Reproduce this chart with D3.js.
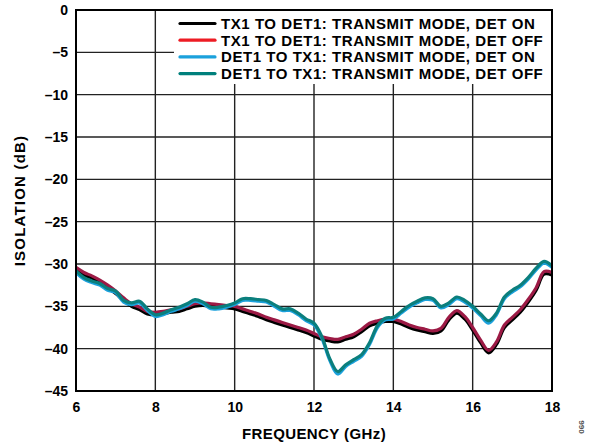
<!DOCTYPE html>
<html>
<head>
<meta charset="utf-8">
<script src="https://cdn.jsdelivr.net/npm/d3@7/dist/d3.min.js"></script>
<style>
  html, body { margin: 0; padding: 0; background: #fff; }
  svg { display: block; }
  text { font-family: "Liberation Sans", Arial, sans-serif; font-weight: bold; fill: #000; }
</style>
</head>
<body>
<svg id="chart" width="592" height="444"></svg>
<script>
// Frequency sweep points (GHz)
const freqGHz = [
  6.0, 6.2, 6.4, 6.6, 6.8, 7.0, 7.2, 7.4, 7.6, 7.8,
  8.0, 8.2, 8.4, 8.6, 8.8, 9.0, 9.2, 9.4, 9.6, 9.8,
  10.0, 10.2, 10.4, 10.6, 10.8, 11.0, 11.2, 11.4, 11.6, 11.8,
  12.0, 12.2, 12.4, 12.6, 12.8, 13.0, 13.2, 13.4, 13.6, 13.8,
  14.0, 14.2, 14.4, 14.6, 14.8, 15.0, 15.2, 15.4, 15.6, 15.8,
  16.0, 16.2, 16.4, 16.6, 16.8, 17.0, 17.2, 17.4, 17.6, 17.8, 18.0
];

// Isolation (dB), TX1 to DET1, transmit mode, detector on
const tx1Det1On = [
  -30.6, -31.2, -31.6, -32.1, -32.7, -33.4, -34.2, -34.9, -35.3, -35.8,
  -35.9, -35.8, -35.6, -35.5, -35.2, -34.9, -34.8, -34.9, -35.0, -35.1,
  -35.2, -35.5, -35.8, -36.1, -36.5, -36.8, -37.1, -37.4, -37.7, -38.0,
  -38.4, -38.8, -39.0, -39.1, -38.8, -38.5, -37.9, -37.2, -36.9, -36.7,
  -36.7, -37.0, -37.4, -37.7, -37.9, -38.1, -37.8, -36.5, -35.7, -36.4,
  -37.7, -39.2, -40.4, -39.4, -37.4, -36.5, -35.6, -34.4, -33.0, -31.1, -31.2
];

// Isolation (dB), TX1 to DET1, transmit mode, detector off
const tx1Det1Off = [
  -30.4, -31.0, -31.4, -31.9, -32.5, -33.2, -34.0, -34.7, -35.1, -35.6,
  -35.7, -35.6, -35.4, -35.3, -35.0, -34.7, -34.6, -34.7, -34.8, -34.9,
  -35.0, -35.3, -35.6, -35.9, -36.3, -36.6, -36.9, -37.2, -37.5, -37.8,
  -38.2, -38.6, -38.8, -38.9, -38.6, -38.3, -37.7, -37.0, -36.7, -36.5,
  -36.5, -36.8, -37.2, -37.5, -37.7, -37.9, -37.6, -36.3, -35.5, -36.2,
  -37.5, -39.0, -40.2, -39.2, -37.2, -36.3, -35.4, -34.2, -32.8, -30.9, -31.0
];

// Isolation (dB), DET1 to TX1, transmit mode, detector on
const det1Tx1On = [
  -30.9, -31.7, -32.1, -32.4, -33.0, -33.3, -34.4, -34.7, -34.5, -35.4,
  -36.1, -35.9, -35.5, -35.2, -34.8, -34.3, -34.6, -35.2, -35.2, -35.0,
  -34.7, -34.2, -34.2, -34.3, -34.4, -34.9, -35.4, -35.4, -35.9, -36.6,
  -37.1, -38.7, -41.3, -42.9, -42.0, -41.4, -40.8, -39.4, -37.4, -36.5,
  -36.4, -35.7, -35.0, -34.5, -34.1, -34.2, -35.1, -34.7, -34.0, -34.4,
  -35.1, -36.0, -36.9, -35.9, -34.0, -33.2, -32.6, -31.7, -30.6, -29.8, -30.3
];

// Isolation (dB), DET1 to TX1, transmit mode, detector off
const det1Tx1Off = [
  -30.8, -31.6, -32.0, -32.3, -32.9, -33.2, -34.3, -34.6, -34.4, -35.3,
  -36.0, -35.8, -35.4, -35.1, -34.7, -34.2, -34.5, -35.1, -35.1, -34.9,
  -34.6, -34.1, -34.1, -34.2, -34.3, -34.8, -35.3, -35.3, -35.8, -36.5,
  -37.0, -38.6, -41.2, -42.7, -41.9, -41.3, -40.7, -39.3, -37.3, -36.4,
  -36.3, -35.6, -34.9, -34.4, -34.0, -34.1, -35.0, -34.6, -33.9, -34.3,
  -35.0, -35.9, -36.7, -35.8, -33.9, -33.1, -32.5, -31.6, -30.5, -29.7, -30.2
];

const seriesNames = [
  "TX1 TO DET1: TRANSMIT MODE, DET ON",
  "TX1 TO DET1: TRANSMIT MODE, DET OFF",
  "DET1 TO TX1: TRANSMIT MODE, DET ON",
  "DET1 TO TX1: TRANSMIT MODE, DET OFF"
];
const seriesValues = [tx1Det1On, tx1Det1Off, det1Tx1On, det1Tx1Off];
const legendColors = ["#000000", "#ed1c24", "#1ba1dc", "#00807c"];
const traceColors  = ["#000000", "#9c1a45", "#1ba1dc", "#0b7f7d"];
// small vertical nudge so overlapping traces show as paired lines
const traceShift   = [0.8, 0, 0.8, 0];

const xTicks = [6, 8, 10, 12, 14, 16, 18];
const yTicks = [0, -5, -10, -15, -20, -25, -30, -35, -40, -45];

const svg = d3.select("#chart");
const W = 592, H = 444;
const m = { left: 76, right: 40, top: 10, bottom: 53 };
const pw = W - m.left - m.right, ph = H - m.top - m.bottom;

const x = d3.scaleLinear().domain([6, 18]).range([m.left, m.left + pw]);
const y = d3.scaleLinear().domain([-45, 0]).range([m.top + ph, m.top]);

// grid
const grid = svg.append("g");
grid.selectAll("line.v").data(xTicks).join("line")
  .attr("x1", d => x(d)).attr("x2", d => x(d))
  .attr("y1", m.top).attr("y2", m.top + ph)
  .attr("stroke", "#222").attr("stroke-width", 1.4);
grid.selectAll("line.h").data(yTicks).join("line")
  .attr("x1", m.left).attr("x2", m.left + pw)
  .attr("y1", d => y(d)).attr("y2", d => y(d))
  .attr("stroke", "#222").attr("stroke-width", 1.4);

// axes (labels only; grid supplies the lines)
const fmtY = d => d === 0 ? "0" : "\u2013" + Math.abs(d);
const yAxis = svg.append("g").attr("transform", `translate(${m.left},0)`)
  .call(d3.axisLeft(y).tickValues(yTicks).tickFormat(fmtY).tickSize(0).tickPadding(8));
const xAxis = svg.append("g").attr("transform", `translate(0,${m.top + ph})`)
  .call(d3.axisBottom(x).tickValues(xTicks).tickFormat(d3.format("d")).tickSize(0).tickPadding(11));
[yAxis, xAxis].forEach(a => {
  a.select(".domain").remove();
  a.selectAll("text").attr("font-size", 14).attr("font-family", "Liberation Sans, Arial, sans-serif")
    .attr("font-weight", "bold").attr("fill", "#000");
});

// traces
const clip = svg.append("clipPath").attr("id", "plotclip").append("rect")
  .attr("x", m.left).attr("y", m.top).attr("width", pw).attr("height", ph);
const traces = svg.append("g").attr("clip-path", "url(#plotclip)");
seriesValues.forEach((vals, i) => {
  const line = d3.line()
    .x((d, j) => x(freqGHz[j]))
    .y(d => y(d) + traceShift[i])
    .curve(d3.curveCatmullRom.alpha(0.5));
  traces.append("path").datum(vals)
    .attr("d", line)
    .attr("fill", "none")
    .attr("stroke", traceColors[i])
    .attr("stroke-width", 3.2)
    .attr("stroke-linejoin", "round")
    .attr("stroke-linecap", "round");
});

// legend
const lg = svg.append("g");
lg.append("rect").attr("x", 174).attr("y", m.top + 1).attr("width", m.left + pw - 174 - 1).attr("height", 73)
  .attr("fill", "#fff");
seriesNames.forEach((name, i) => {
  const yy = 23.5 + i * 16.7;
  lg.append("line").attr("x1", 180).attr("x2", 215).attr("y1", yy).attr("y2", yy)
    .attr("stroke", legendColors[i]).attr("stroke-width", 3.2).attr("stroke-linecap", "round");
  lg.append("text").attr("x", 221).attr("y", yy + 5.5).attr("font-size", 15)
    .attr("letter-spacing", 0.55).text(name);
});

// frame
svg.append("rect").attr("x", m.left).attr("y", m.top).attr("width", pw).attr("height", ph)
  .attr("fill", "none").attr("stroke", "#000").attr("stroke-width", 2);

// axis titles
svg.append("text").attr("x", m.left + pw / 2).attr("y", 439).attr("text-anchor", "middle")
  .attr("font-size", 15).attr("letter-spacing", 0.4).text("FREQUENCY (GHz)");
svg.append("text").attr("transform", `translate(25,${m.top + ph / 2}) rotate(-90)`)
  .attr("text-anchor", "middle").attr("font-size", 15).attr("letter-spacing", 1.2).text("ISOLATION (dB)");

// figure number
svg.append("text").attr("transform", "translate(584,427) rotate(-90)")
  .attr("text-anchor", "middle").attr("font-size", 8).attr("font-weight", "normal")
  .style("fill", "#555").text("066");
</script>
</body>
</html>
